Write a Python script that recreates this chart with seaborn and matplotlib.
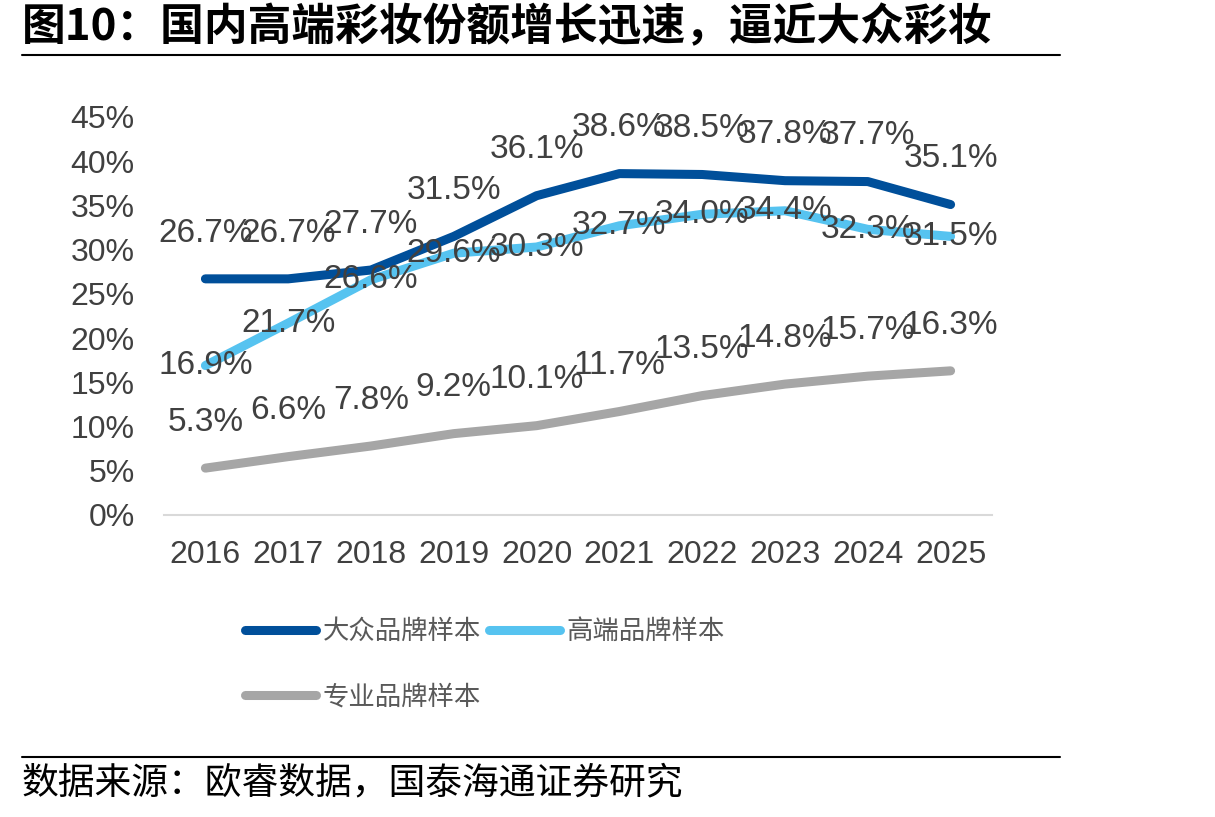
import seaborn as sns
import pandas as pd
import matplotlib.pyplot as plt
from matplotlib.lines import Line2D

sns.set_theme(style='white')
plt.rcParams['font.family'] = ['Liberation Sans', 'Noto Sans CJK SC', 'DejaVu Sans']

years = ['2016', '2017', '2018', '2019', '2020', '2021', '2022', '2023', '2024', '2025']
mass = [26.7, 26.7, 27.7, 31.5, 36.1, 38.6, 38.5, 37.8, 37.7, 35.1]
prestige = [16.9, 21.7, 26.6, 29.6, 30.3, 32.7, 34.0, 34.4, 32.3, 31.5]
pro = [5.3, 6.6, 7.8, 9.2, 10.1, 11.7, 13.5, 14.8, 15.7, 16.3]
names = ['大众品牌样本', '高端品牌样本', '专业品牌样本']
colors = {'大众品牌样本': '#004F9A', '高端品牌样本': '#56C3F0', '专业品牌样本': '#A6A6A6'}
y_ticks = [0, 5, 10, 15, 20, 25, 30, 35, 40, 45]

raw = pd.DataFrame({'year': years, names[0]: mass, names[1]: prestige, names[2]: pro})
data = raw.melt(id_vars='year', var_name='series', value_name='share')

fig = plt.figure(figsize=(12.15, 8.17), dpi=100)
ax = fig.add_axes([164 / 1215, 1 - 515 / 817, (992 - 164) / 1215, (515 - 117) / 817])

sns.lineplot(data=data, x='year', y='share', hue='series', palette=colors, ax=ax,
             linewidth=6.5, sort=False, legend=False)
for ln in ax.lines:
    ln.set_solid_capstyle('round')
    ln.set_solid_joinstyle('round')

txt = '#404040'
# labels: mass and professional above the point, prestige on the point
for vals, dy in [(mass, 33), (pro, 33), (prestige, 0)]:
    for i, v in enumerate(vals):
        ax.annotate(f'{v:.1f}%', (i, v), xytext=(0, dy), textcoords='offset points',
                    ha='center', va='center', fontsize=24, color=txt)

ax.set_xlim(-0.5, 9.5)
ax.set_ylim(0, 45)
ax.set_yticks(y_ticks)
ax.set_yticklabels([f'{t}%' for t in y_ticks])
ax.set_xlabel('')
ax.set_ylabel('')
ax.tick_params(axis='y', length=0, pad=21, labelsize=23, labelcolor=txt)
ax.tick_params(axis='x', length=0, pad=18, labelsize=23, labelcolor=txt)
for s in ['top', 'right', 'left']:
    ax.spines[s].set_visible(False)
ax.spines['bottom'].set_color('#D9D9D9')
ax.spines['bottom'].set_linewidth(1.5)
ax.grid(False)

order = [names[0], names[2], names[1]]
handles = [Line2D([], [], color=colors[n], lw=6.5, solid_capstyle='round') for n in order]
fig.legend(handles, order, loc='upper left', bbox_to_anchor=(245 / 1215, 1 - 619 / 817),
           ncol=2, frameon=False, fontsize=19, handlelength=2.7, handletextpad=0.25,
           columnspacing=0.3, labelspacing=1.55, borderpad=0, borderaxespad=0,
           labelcolor='#595959')

fig.text(22 / 1215, 1 - 27 / 817, '图10：国内高端彩妆份额增长迅速，逼近大众彩妆',
         fontsize=31.5, fontweight='bold', va='center', ha='left', color='black',
         family=['Noto Sans CJK SC', 'DejaVu Sans'])
fig.add_artist(Line2D([22 / 1215, 1060 / 1215], [1 - 55 / 817, 1 - 55 / 817], color='black', lw=1.5))
fig.add_artist(Line2D([22 / 1215, 1060 / 1215], [1 - 757 / 817, 1 - 757 / 817], color='black', lw=1.5))
fig.text(22 / 1215, 1 - 783 / 817, '数据来源：欧睿数据，国泰海通证券研究',
         fontsize=26.5, va='center', ha='left', color='black',
         family=['Noto Sans CJK SC', 'DejaVu Sans'])

fig.savefig('out.png', dpi=100)
